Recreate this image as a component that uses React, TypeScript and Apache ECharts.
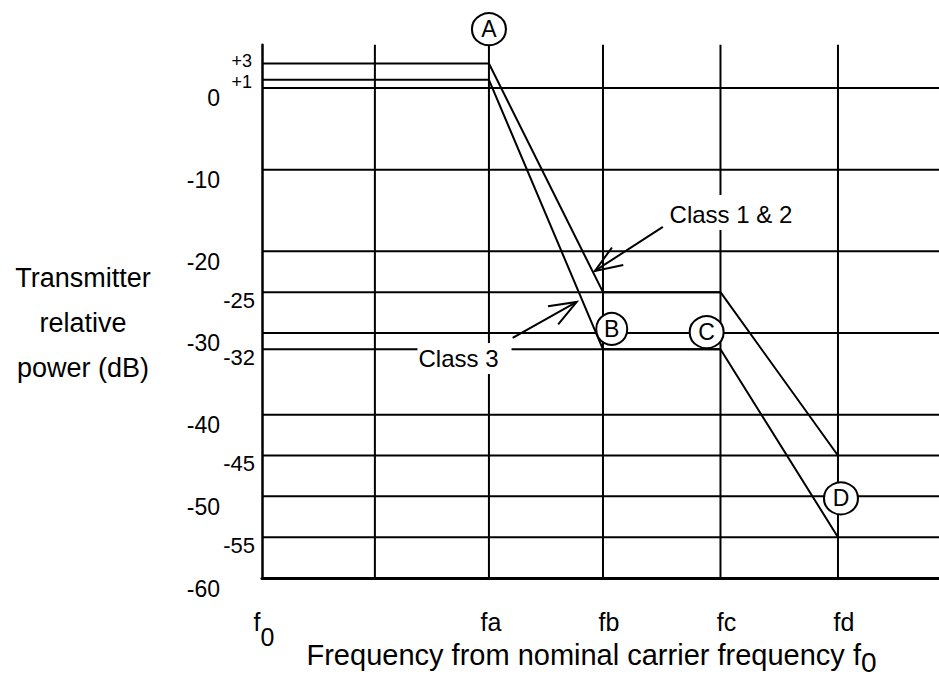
import React, { useEffect, useRef } from 'react';
import * as echarts from 'echarts';

// ---- data ----
const freqLabels = ['f0', '', 'fa', 'fb', 'fc', 'fd'];
const freqPos = [0, 0.98, 1.97, 2.96, 3.98, 5.0];
const freqMax = 5.877;

const levelLabels = ['+3', '+1', '0', '-10', '-20', '-25', '-30', '-32', '-40', '-45', '-50', '-55', '-60'];
const levelValues = [3, 1, 0, -10, -20, -25, -30, -32, -40, -45, -50, -55, -60];
const levelEnds = ['fa', 'fa', 'edge', 'edge', 'edge', 'fc', 'edge', 'fc', 'edge', 'edge', 'edge', 'edge', 'edge'];
const levelKinds = ['Q', 'P', 'M', 'M', 'M', 'm', 'M', 'm', 'M', 'm', 'M', 'm', 'M'];
const levelMin = -60;
const levelMax = 5.3;

const maskFreqs = ['fa', 'fb', 'fc', 'fd'];
const class12Mask = [3, -25, -25, -45];
const class3Mask = [1, -32, -32, -55];

const calloutLetters = ['A', 'B', 'C', 'D'];
const calloutFreq = [1.97, 3.036, 3.86, 5.026];
const calloutLevel = [7.2, -29.5, -29.9, -50.25];

const noteTexts = ['Class 1 & 2', 'Class 3'];
const noteAt = [[4.071, -15.24], [1.758, -33.12]];
const noteTail = [[3.48, -17.0], [2.176, -30.6]];
const noteTip = [[2.89, -22.4], [2.732, -26.2]];

const FONT = '"Liberation Sans", Arial, Helvetica, sans-serif';

const posOf = (name: string) => (name === 'edge' ? freqMax : freqPos[freqLabels.indexOf(name)]);

export default function App() {
  const ref = useRef<HTMLDivElement>(null);

  useEffect(() => {
    if (!ref.current) return;
    const chart = echarts.init(ref.current, undefined, { renderer: 'svg' });
    const ls = { color: '#000', width: 2, type: 'solid' as const };
    const series: any[] = [];

    // vertical grid lines
    freqPos.forEach((x, i) => {
      if (i === 0) return;
      series.push({
        type: 'line', name: 'v' + i, data: [[x, levelMin], [x, levelMax]],
        symbol: 'none', lineStyle: ls, silent: true, clip: false, z: 2,
      });
    });
    // horizontal level lines
    levelValues.forEach((y, i) => {
      if (y === levelMin) return;
      series.push({
        type: 'line', name: 'h' + i, data: [[0, y], [posOf(levelEnds[i]), y]],
        symbol: 'none', lineStyle: ls, silent: true, clip: false, z: 2,
      });
    });
    // masks
    series.push({
      type: 'line', name: 'Class 1 & 2',
      data: maskFreqs.map((f, i) => [posOf(f), class12Mask[i]]),
      symbol: 'none', lineStyle: ls, silent: true, clip: false, z: 3,
    });
    series.push({
      type: 'line', name: 'Class 3',
      data: maskFreqs.map((f, i) => [posOf(f), class3Mask[i]]),
      symbol: 'none', lineStyle: ls, silent: true, clip: false, z: 3,
    });
    // note labels
    series.push({
      type: 'scatter', name: 'notes',
      data: noteTexts.map((t, i) => ({ value: noteAt[i], name: t })),
      symbolSize: 1, itemStyle: { color: 'rgba(255,255,255,0)', opacity: 1 }, clip: false, silent: true, z: 5,
      label: {
        show: true, position: 'inside', color: '#000',
        textBorderWidth: 0,
        formatter: (p: any) => '{n' + p.dataIndex + '|' + p.name + '}',
        rich: {
          n0: { fontSize: 24, fontFamily: FONT, color: '#000', backgroundColor: '#fff', padding: [8, 3, 3, 3] },
          n1: { fontSize: 24, fontFamily: FONT, color: '#000', backgroundColor: '#fff', padding: [4, 13, 3, 1] },
        },
      },
    });
    // arrows
    series.push({
      type: 'custom', name: 'arrows', clip: false, silent: true, z: 7,
      data: noteTexts.map((_, i) => [noteTail[i][0], noteTail[i][1], noteTip[i][0], noteTip[i][1]]),
      renderItem: (_p: any, api: any) => {
        const a = api.coord([api.value(0), api.value(1)]);
        const b = api.coord([api.value(2), api.value(3)]);
        const ang = Math.atan2(a[1] - b[1], a[0] - b[0]);
        const L = 29;
        const h = (21 * Math.PI) / 180;
        const w1 = [b[0] + L * Math.cos(ang + h), b[1] + L * Math.sin(ang + h)];
        const w2 = [b[0] + L * Math.cos(ang - h), b[1] + L * Math.sin(ang - h)];
        const st = { stroke: '#000', lineWidth: 2, fill: 'none' };
        return {
          type: 'group',
          children: [
            { type: 'line', shape: { x1: a[0], y1: a[1], x2: b[0], y2: b[1] }, style: st },
            { type: 'polyline', shape: { points: [w1, b, w2] }, style: st },
          ],
        };
      },
    });
    // callout circles
    series.push({
      type: 'scatter', name: 'callouts', clip: false, silent: true, z: 6,
      data: calloutLetters.map((l, i) => ({
        value: [calloutFreq[i], calloutLevel[i]], name: l,
        symbolSize: l === 'B' ? [31, 32] : [34, 32],
      })),
      symbol: 'circle',
      itemStyle: { color: '#fff', borderColor: '#000', borderWidth: 2, opacity: 1 },
      label: {
        show: true, position: 'inside', formatter: '{b}', color: '#000',
        textBorderWidth: 0,
        fontSize: 23, fontFamily: FONT,
      },
    });

    // order labels so the first/last ones have no close neighbours
    const yLabelValues = [-10, 3, 1, 0, -20, -25, -30, -32, -40, -45, -55, -60, -50];

    chart.setOption({
      animation: false,
      backgroundColor: '#fff',
      grid: { left: 262, right: 0, top: 44.7, bottom: 99, containLabel: false, outerBoundsMode: 'none' },
      xAxis: {
        type: 'value', min: 0, max: freqMax,
        splitLine: { show: false }, axisTick: { show: false },
        axisLine: { show: true, onZero: false, lineStyle: { color: '#000', width: 3 } },
        axisLabel: {
          customValues: freqPos.filter((_, i) => freqLabels[i] !== ''),
          hideOverlap: false,
          margin: 31, color: '#000', fontFamily: FONT, fontSize: 25,
          formatter: (v: number) => {
            const i = freqPos.findIndex((p) => Math.abs(p - v) < 1e-6);
            const t = i >= 0 ? freqLabels[i] : '';
            if (t === 'f0') return '{f|f}{s|0}';
            if (t === 'fa') return '{a|' + t + '}';
            return '{t|' + t + '}';
          },
          rich: {
            f: { fontSize: 25, lineHeight: 25, verticalAlign: 'top', padding: [0, 0, 0, 4], fontFamily: FONT, color: '#000' },
            s: { fontSize: 25, lineHeight: 55, verticalAlign: 'middle', fontFamily: FONT, color: '#000' },
            a: { fontSize: 25, lineHeight: 25, verticalAlign: 'top', padding: [0, 0, 0, 4], fontFamily: FONT, color: '#000' },
            t: { fontSize: 25, lineHeight: 25, verticalAlign: 'top', padding: [0, 0, 0, 12], fontFamily: FONT, color: '#000' },
          },
        },
      },
      yAxis: {
        type: 'value', min: levelMin, max: levelMax,
        splitLine: { show: false }, axisTick: { show: false },
        axisLine: { show: true, onZero: false, lineStyle: { color: '#000', width: 2.5 } },
        axisLabel: {
          customValues: yLabelValues,
          hideOverlap: false,
          margin: 7, color: '#000', fontFamily: FONT, verticalAlign: 'middle',
          formatter: (v: number) => {
            const i = levelValues.findIndex((p) => Math.abs(p - v) < 1e-6);
            if (i < 0) return '';
            return '{' + levelKinds[i] + '|' + levelLabels[i] + '}';
          },
          rich: {
            M: { fontSize: 23, lineHeight: 23, padding: [21, 35, 0, 0], fontFamily: FONT, color: '#000' },
            m: { fontSize: 22, lineHeight: 22, padding: [16, 0, 0, 0], fontFamily: FONT, color: '#000' },
            Q: { fontSize: 18, lineHeight: 18, padding: [0, 3, 4, 0], fontFamily: FONT, color: '#000' },
            P: { fontSize: 18, lineHeight: 18, padding: [5, 3, 0, 0], fontFamily: FONT, color: '#000' },
          },
        },
      },
      graphic: [
        {
          type: 'text', x: 83, y: 322.7, silent: true,
          style: {
            text: 'Transmitter\nrelative\npower (dB)', fontFamily: FONT, fontSize: 27,
            lineHeight: 45, align: 'center', verticalAlign: 'middle', fill: '#000',
          },
        },
        {
          type: 'text', x: 591.5, y: 640.5, silent: true,
          style: {
            text: '{m|Frequency from nominal carrier frequency f}{s|0}',
            fontFamily: FONT, fontSize: 29, align: 'center', verticalAlign: 'top', fill: '#000',
            rich: {
              m: { fontSize: 29, lineHeight: 29, verticalAlign: 'top', fontFamily: FONT, fill: '#000' },
              s: { fontSize: 28, lineHeight: 44, verticalAlign: 'middle', fontFamily: FONT, fill: '#000' },
            },
          },
        },
      ],
      series,
    });
    return () => chart.dispose();
  }, []);

  return <div ref={ref} style={{ position: 'absolute', left: 0, top: 0, width: 939, height: 677 }} />;
}
